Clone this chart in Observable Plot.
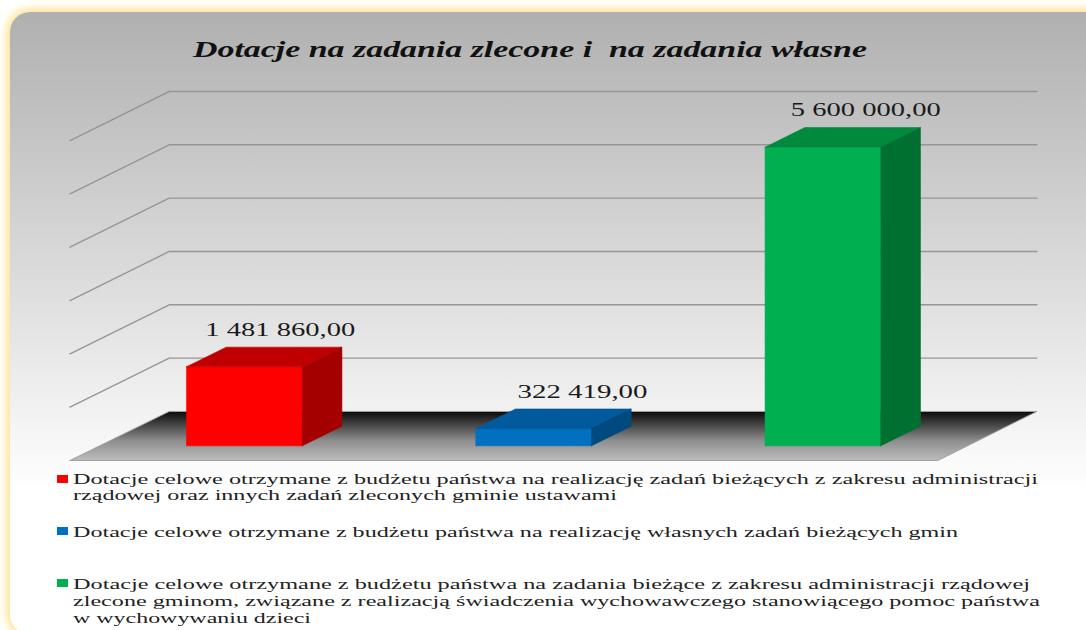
<!DOCTYPE html>
<html lang="pl">
<head>
<meta charset="utf-8">
<script src="https://cdn.jsdelivr.net/npm/d3@7"></script>
<script src="https://cdn.jsdelivr.net/npm/@observablehq/plot@0.6"></script>
<style>
  html,body{margin:0;padding:0;width:1086px;height:630px;overflow:hidden;background:#fff;}
  #panel{position:absolute;left:10px;top:12px;width:1100px;height:622px;border-radius:20px;
    background:linear-gradient(to bottom,#b0b0b0 0,#ffffff 480px);
    box-shadow:0 0 10px 3px #ffdf85;}
  #page{position:absolute;left:0;top:0;width:1086px;height:630px;overflow:hidden;}
  #title{height:80px;position:relative;font:italic bold 23px "Liberation Serif",serif;color:#111;}
  .fit{position:absolute;white-space:pre;transform-origin:0 50%;display:inline-block;line-height:1;}
  #chart{height:385px;}
  #legend{position:relative;height:165px;font:15px "Liberation Serif",serif;color:#222;}
  .swatch{position:absolute;left:57px;width:11px;height:8px;}
</style>
</head>
<body>
<div id="panel"></div>
<div id="page">
  <div id="title"></div>
  <div id="chart"></div>
  <div id="legend"></div>
</div>
<script>
const titleText = "Dotacje na zadania zlecone i  na zadania własne";
const categories = ["zlecone", "własne", "wychowawcze"];
const values = [1481860, 322419, 5600000];
const valueLabels = ["1 481 860,00", "322 419,00", "5 600 000,00"];
const frontColors = ["#ff0000", "#0070c0", "#00b050"];
const topColors = ["#c00000", "#005a9c", "#008a3e"];
const sideColors = ["#a40000", "#004a80", "#007030"];
const yTicks = [0, 1000000, 2000000, 3000000, 4000000, 5000000, 6000000];
const legendEntries = [
  ["Dotacje celowe otrzymane z budżetu państwa na realizację zadań bieżących z zakresu administracji",
   "rządowej oraz innych zadań zleconych gminie ustawami"],
  ["Dotacje celowe otrzymane z budżetu państwa na realizację własnych zadań bieżących gmin"],
  ["Dotacje celowe otrzymane z budżetu państwa na zadania bieżące z zakresu administracji rządowej",
   "zlecone gminom, związane z realizacją świadczenia wychowawczego stanowiącego pomoc państwa",
   "w wychowywaniu dzieci"]
];

// Oblique projection of the 3-D column chart onto Plot's x/y scales.
const depthX = 0.343;      // category units per full floor depth
const depthY = 920000;     // value units per full floor depth
const P = (cat, depth, val) => ({x: cat + depth * depthX, y: val + depth * depthY});
const poly = (pts, fill) => Plot.line(pts, {x: "x", y: "y", fill, stroke: fill, strokeWidth: 0.6});

const gridRows = yTicks.slice(1).flatMap(v =>
  [P(0, 0, v), P(0, 1, v), P(categories.length, 1, v)].map(p => ({...p, tick: v})));
const floorPts = [P(0, 0, 0), P(0, 1, 0), P(3, 1, 0), P(3, 0, 0), P(0, 0, 0)];

const barMarks = values.flatMap((v, i) => {
  const a = i + 0.3, b = i + 0.7, d0 = 0.3, d1 = 0.7;
  return [
    poly([P(a, d0, 0), P(a, d0, v), P(b, d0, v), P(b, d0, 0), P(a, d0, 0)], frontColors[i]),
    poly([P(a, d0, v), P(a, d1, v), P(b, d1, v), P(b, d0, v), P(a, d0, v)], topColors[i]),
    poly([P(b, d0, 0), P(b, d0, v), P(b, d1, v), P(b, d1, 0), P(b, d0, 0)], sideColors[i])
  ];
});

const labelShift = [16, 29, 23];
const labelWidth = [150, 130, 150];
const labelMarks = values.map((v, i) =>
  Plot.text([valueLabels[i]], {
    x: () => P(i + 0.5, 0.5, v).x,
    y: () => P(i + 0.5, 0.7, v).y,
    text: d => d, dx: labelShift[i], dy: -17,
    fontSize: 18, fontFamily: "Liberation Serif, serif", fill: "#1a1a1a"
  }));

const plot = Plot.plot({
  width: 1086, height: 385,
  marginLeft: 0, marginRight: 0, marginTop: 0, marginBottom: 0,
  style: {background: "transparent", overflow: "visible"},
  x: {domain: [0, 3 + depthX], range: [69.5, 1036.5], axis: null},
  y: {domain: [0, 6000000 + depthY], range: [380, 11], axis: null},
  marks: [
    Plot.line(gridRows, {x: "x", y: "y", z: "tick", stroke: "#969696", strokeWidth: 1.4}),
    Plot.line(floorPts, {x: "x", y: "y", fill: "url(#floorGrad)", stroke: "#a0a0a0", strokeWidth: 1}),
    ...barMarks,
    ...labelMarks
  ]
});

// Floor gradient, black at the back wall and grey at the front edge.
const grad = d3.select(plot).insert("defs", ":first-child").append("linearGradient")
  .attr("id", "floorGrad").attr("x1", 0).attr("x2", 0).attr("y1", 0).attr("y2", 1);
grad.append("stop").attr("offset", "0%").attr("stop-color", "#0a0a0a");
grad.append("stop").attr("offset", "60%").attr("stop-color", "#8e8e8e");
grad.append("stop").attr("offset", "100%").attr("stop-color", "#bdbdbd");

d3.select(plot).selectAll("text").each(function(_, i) {
  this.setAttribute("textLength", labelWidth[i]);
  this.setAttribute("lengthAdjust", "spacingAndGlyphs");
});
document.getElementById("chart").appendChild(plot);

// HTML title and legend, stretched to the reference's wide letterforms.
function fitted(parent, text, left, top, width) {
  const el = document.createElement("span");
  el.className = "fit";
  el.textContent = text;
  el.style.left = left + "px";
  el.style.top = top + "px";
  parent.appendChild(el);
  el.style.transform = `scaleX(${width / el.getBoundingClientRect().width})`;
}
fitted(document.getElementById("title"), titleText, 193, 38, 674);

const legend = document.getElementById("legend");
const lineTops = [[472 - 465, 488 - 465], [525 - 465], [577 - 465, 594 - 465, 611 - 465]];
const lineWidths = [[965, 544], [885], [957, 967, 238]];
const swatchTops = [10, 62, 114];
legendEntries.forEach((lines, i) => {
  const s = document.createElement("div");
  s.className = "swatch";
  s.style.top = swatchTops[i] + "px";
  s.style.background = frontColors[i];
  legend.appendChild(s);
  lines.forEach((t, j) => fitted(legend, t, 73, lineTops[i][j], lineWidths[i][j]));
});
</script>
</body>
</html>
